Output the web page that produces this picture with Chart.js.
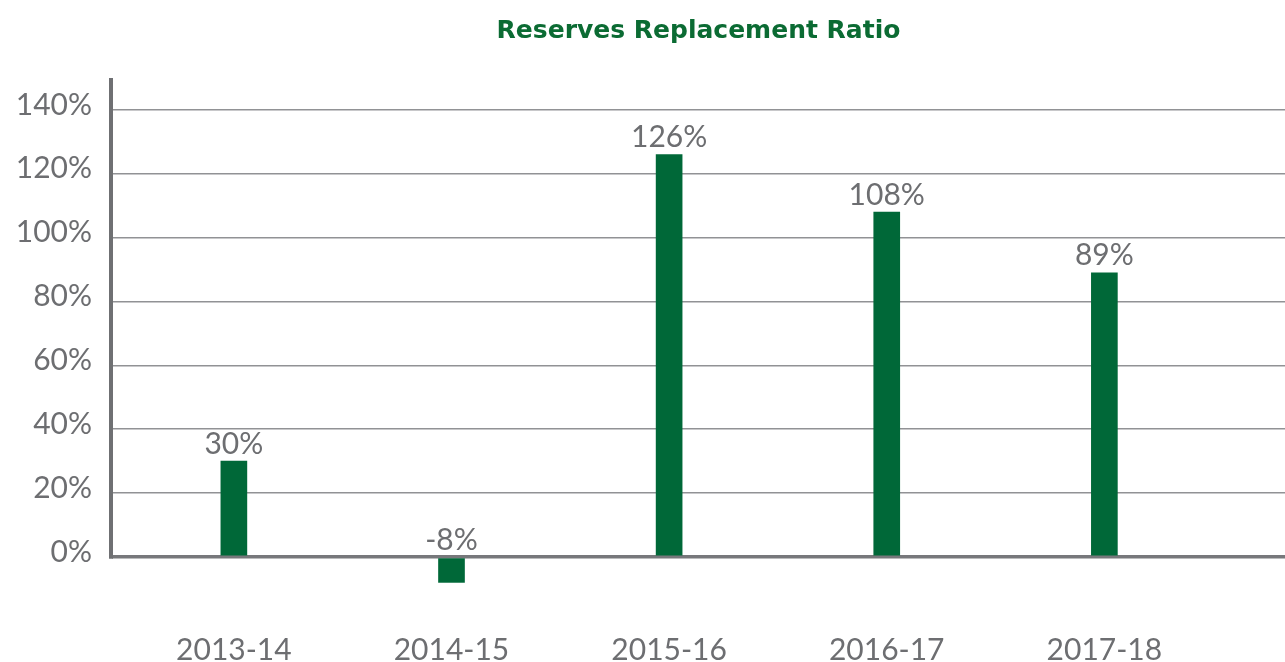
<!DOCTYPE html>
<html lang="en">

<head>
    <meta charset="UTF-8">
    <title>Reserves Replacement Ratio</title>
    <script src="https://cdn.jsdelivr.net/npm/chart.js"></script>
    <style>
        body { margin: 0; background: #fff; }
        #wrap { width: 1285px; height: 662px; position: relative; }
    </style>
</head>

<body>
    <div id="wrap"><canvas id="chart"></canvas></div>

    <script>
        // data
        const categories = ['2013-14', '2014-15', '2015-16', '2016-17', '2017-18'];
        const ratios = [30, -8, 126, 108, 89];
        const yTicks = [0, 20, 40, 60, 80, 100, 120, 140];

        const textGray = '#6d6e71';
        const barGreen = '#006838';

        // left axis line, only from the top down to 0%
        const axisLine = {
            id: 'axisLine',
            beforeDatasetsDraw(chart) {
                const ctx = chart.ctx;
                const area = chart.chartArea;
                const y0 = chart.scales.y.getPixelForValue(0);
                ctx.save();
                ctx.strokeStyle = '#6f7073';
                ctx.lineWidth = 4;
                ctx.beginPath();
                ctx.moveTo(area.left - 1, area.top);
                ctx.lineTo(area.left - 1, y0 + 2);
                ctx.stroke();
                ctx.restore();
            }
        };

        // value labels above the bars
        const valueLabels = {
            id: 'valueLabels',
            afterDatasetsDraw(chart) {
                const ctx = chart.ctx;
                const meta = chart.getDatasetMeta(0);
                const y0 = chart.scales.y.getPixelForValue(0);
                ctx.save();
                ctx.fillStyle = textGray;
                ctx.font = '30px Lato';
                ctx.textAlign = 'center';
                ctx.textBaseline = 'middle';
                meta.data.forEach((bar, i) => {
                    const top = ratios[i] >= 0 ? bar.y : y0;
                    ctx.fillText(ratios[i] + '%', bar.x, top - 17);
                });
                ctx.restore();
            }
        };

        const ctx = document.getElementById('chart').getContext('2d');
        new Chart(ctx, {
            type: 'bar',
            data: {
                datasets: [{
                    label: 'Reserves Replacement Ratio',
                    data: ratios.map((v, i) => ({ x: i, y: v })),
                    backgroundColor: barGreen,
                    barThickness: 26
                }]
            },
            options: {
                responsive: true,
                maintainAspectRatio: false,
                animation: false,
                layout: { padding: 0 },
                scales: {
                    x: {
                        type: 'linear',
                        offset: false,
                        min: -0.56,
                        max: 4.83,
                        afterBuildTicks: (scale) => {
                            scale.ticks = categories.map((c, i) => ({ value: i }));
                        },
                        afterFit: (scale) => { scale.height = 48; },
                        grid: { display: false },
                        border: { display: false },
                        ticks: {
                            color: textGray,
                            font: { family: 'Lato', size: 30 },
                            padding: 10,
                            maxRotation: 0,
                            autoSkip: false,
                            callback: (v) => categories[v]
                        }
                    },
                    y: {
                        min: -17.9,
                        max: 150,
                        afterBuildTicks: (scale) => {
                            scale.ticks = yTicks.map(v => ({ value: v }));
                        },
                        afterFit: (scale) => { scale.width = 112; },
                        border: { display: false },
                        grid: {
                            drawTicks: false,
                            color: (c) => c.tick && c.tick.value === 0 ? '#77787b' : '#919295',
                            lineWidth: (c) => c.tick && c.tick.value === 0 ? 3.5 : 1.5
                        },
                        ticks: {
                            color: textGray,
                            font: { family: 'Lato', size: 30 },
                            padding: 20,
                            labelOffset: -5,
                            callback: (v) => v + '%'
                        }
                    }
                },
                plugins: {
                    legend: { display: false },
                    tooltip: { enabled: false },
                    title: {
                        display: true,
                        fullSize: false,
                        text: 'Reserves Replacement Ratio',
                        color: '#0b6b33',
                        font: { family: 'DejaVu Sans', size: 25, weight: 'bold' },
                        padding: { top: 16, bottom: 32 }
                    }
                }
            },
            plugins: [axisLine, valueLabels]
        });
    </script>
</body>

</html>
